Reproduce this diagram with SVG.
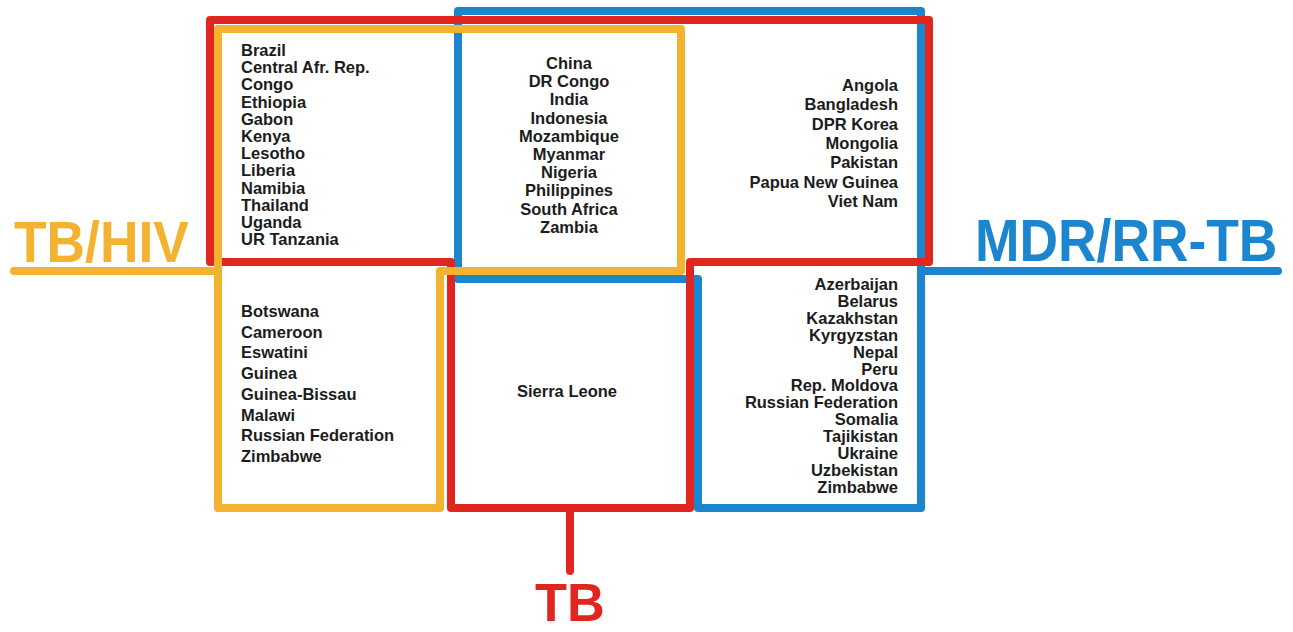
<svg xmlns="http://www.w3.org/2000/svg" width="1293" height="632" viewBox="0 0 1293 632">
<style>
.ol{fill:none;stroke-width:8;stroke-linejoin:round;stroke-linecap:round}
.y{stroke:#f3b331}.r{stroke:#e1261f}.b{stroke:#1b86cf}
.c{font-family:"Liberation Sans",Arial,Helvetica,sans-serif;font-weight:bold;font-size:16.5px;fill:#1c1c1c}
.lab{font-family:"Liberation Sans",Arial,Helvetica,sans-serif;font-weight:bold}
</style>
<rect width="1293" height="632" fill="#fff"/>
<g id="mdr-outline"><path class="ol b" d="M458,11 H921 V508 H698 V279 H458 Z"/></g>
<g id="tb-outline"><path class="ol r" d="M210,20 H929 V262 H690 V508 H451 V262 H210 Z"/></g>
<g id="tbhiv-outline"><path class="ol y" d="M218,29 H681 V271 H440 V508 H218 Z"/></g>
<g id="connectors">
<path class="ol y" d="M14,271 H218"/>
<path class="ol b" d="M921,271 H1278"/>
<path class="ol r" d="M570,508 V571"/>
</g>
<g id="label-tbhiv"><text class="lab" transform="translate(14,262) scale(0.92,1)" font-size="58" fill="#f3b331">TB/HIV</text></g>
<g id="label-mdr"><text class="lab" transform="translate(975,261) scale(0.905,1)" font-size="59" fill="#1b86cf">MDR/RR-TB</text></g>
<g id="label-tb"><text class="lab" transform="translate(535,621) scale(0.97,1)" font-size="54" fill="#e1261f">TB</text></g>
<g id="cell-all-three-tbhiv-tb" class="c">
<text x="241" y="56">Brazil</text>
<text x="241" y="73.2">Central Afr. Rep.</text>
<text x="241" y="90.4">Congo</text>
<text x="241" y="107.6">Ethiopia</text>
<text x="241" y="124.8">Gabon</text>
<text x="241" y="142">Kenya</text>
<text x="241" y="159.2">Lesotho</text>
<text x="241" y="176.4">Liberia</text>
<text x="241" y="193.6">Namibia</text>
<text x="241" y="210.8">Thailand</text>
<text x="241" y="228">Uganda</text>
<text x="241" y="245.2">UR Tanzania</text>
</g>
<g id="cell-all-three" class="c" text-anchor="middle">
<text x="569" y="69">China</text>
<text x="569" y="87.2">DR Congo</text>
<text x="569" y="105.4">India</text>
<text x="569" y="123.6">Indonesia</text>
<text x="569" y="141.8">Mozambique</text>
<text x="569" y="160">Myanmar</text>
<text x="569" y="178.2">Nigeria</text>
<text x="569" y="196.4">Philippines</text>
<text x="569" y="214.6">South Africa</text>
<text x="569" y="232.8">Zambia</text>
</g>
<g id="cell-tb-mdr" class="c" text-anchor="end">
<text x="898" y="91">Angola</text>
<text x="898" y="110.3">Bangladesh</text>
<text x="898" y="129.6">DPR Korea</text>
<text x="898" y="148.9">Mongolia</text>
<text x="898" y="168.2">Pakistan</text>
<text x="898" y="187.5">Papua New Guinea</text>
<text x="898" y="206.8">Viet Nam</text>
</g>
<g id="cell-tbhiv-only" class="c">
<text x="241" y="317">Botswana</text>
<text x="241" y="337.7">Cameroon</text>
<text x="241" y="358.4">Eswatini</text>
<text x="241" y="379.1">Guinea</text>
<text x="241" y="399.8">Guinea-Bissau</text>
<text x="241" y="420.5">Malawi</text>
<text x="241" y="441.2">Russian Federation</text>
<text x="241" y="461.9">Zimbabwe</text>
</g>
<g id="cell-tb-only" class="c" text-anchor="middle">
<text x="567" y="397">Sierra Leone</text>
</g>
<g id="cell-mdr-only" class="c" text-anchor="end">
<text x="898" y="290">Azerbaijan</text>
<text x="898" y="306.9">Belarus</text>
<text x="898" y="323.8">Kazakhstan</text>
<text x="898" y="340.7">Kyrgyzstan</text>
<text x="898" y="357.6">Nepal</text>
<text x="898" y="374.5">Peru</text>
<text x="898" y="391.4">Rep. Moldova</text>
<text x="898" y="408.3">Russian Federation</text>
<text x="898" y="425.2">Somalia</text>
<text x="898" y="442.1">Tajikistan</text>
<text x="898" y="459">Ukraine</text>
<text x="898" y="475.9">Uzbekistan</text>
<text x="898" y="492.8">Zimbabwe</text>
</g>
</svg>
